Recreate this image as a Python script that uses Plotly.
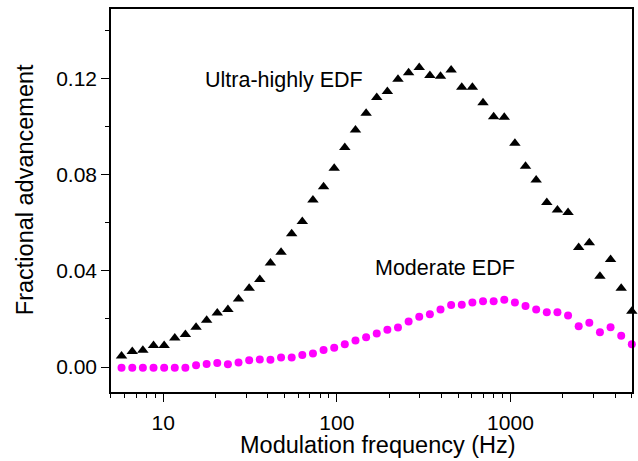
import plotly.graph_objects as go

# Modulation frequency (Hz)
freq = [5.00, 5.75, 6.63, 7.63, 8.79, 10.12, 11.65, 13.41, 15.45, 17.78,
        20.47, 23.57, 27.14, 31.25, 35.98, 41.43, 47.70, 54.92, 63.23, 72.81,
        83.83, 96.54, 111.1, 128.0, 147.4, 169.7, 195.4, 224.9, 259.0, 298.2,
        343.4, 395.3, 455.2, 524.1, 603.4, 694.8, 800.0, 921.1, 1060.5, 1221.0,
        1406.0, 1619.0, 1864.0, 2146.0, 2471.0, 2845.0, 3276.0, 3772.0, 4343.0, 5000.0]

# Ultra-highly EDF (triangles)
ultra = [0.0050, 0.0046, 0.0065, 0.0070, 0.0090, 0.0090, 0.0121, 0.0135, 0.0165, 0.0195,
         0.0225, 0.0239, 0.0283, 0.0328, 0.0364, 0.0433, 0.0478, 0.0555, 0.0606, 0.0695,
         0.0750, 0.0827, 0.0914, 0.0986, 0.1056, 0.1122, 0.1147, 0.1198, 0.1225, 0.1247,
         0.1213, 0.1210, 0.1236, 0.1164, 0.1164, 0.1100, 0.1042, 0.1039, 0.0931, 0.0836,
         0.0778, 0.0685, 0.0653, 0.0643, 0.0497, 0.0517, 0.0378, 0.0447, 0.0328, 0.0232]

# Moderate EDF (circles)
moderate = [-0.0003, -0.0003, -0.0003, -0.0003, -0.0003, -0.0003, -0.0003, -0.0003, 0.0007, 0.0013,
            0.0017, 0.0011, 0.0019, 0.0028, 0.0031, 0.0030, 0.0040, 0.0040, 0.0050, 0.0056,
            0.0071, 0.0080, 0.0095, 0.0110, 0.0124, 0.0139, 0.0155, 0.0164, 0.0189, 0.0209,
            0.0220, 0.0239, 0.0258, 0.0259, 0.0269, 0.0274, 0.0274, 0.0280, 0.0269, 0.0254,
            0.0239, 0.0228, 0.0228, 0.0214, 0.0170, 0.0184, 0.0145, 0.0165, 0.0130, 0.0095]

x_ticks = [10, 100, 1000]
x_ticktext = ["10", "100", "1000"]

FONT = "Liberation Sans, Arial, sans-serif"

fig = go.Figure()
fig.add_trace(go.Scatter(x=freq, y=ultra, mode="markers", name="Ultra-highly EDF",
                         marker=dict(symbol="triangle-up", size=10, color="black"),
                         cliponaxis=False))
fig.add_trace(go.Scatter(x=freq, y=moderate, mode="markers", name="Moderate EDF",
                         marker=dict(symbol="circle", size=8, color="#FF00FF"),
                         cliponaxis=False))

fig.add_annotation(x=1.6954, y=0.1195, xref="x", yref="y", text="Ultra-highly EDF",
                   showarrow=False, font=dict(family=FONT, size=21.5, color="black"))
fig.add_annotation(x=2.6228, y=0.0411, xref="x", yref="y", text="Moderate EDF",
                   showarrow=False, font=dict(family=FONT, size=21.5, color="black"))

# axis titles
fig.add_annotation(x=0.513, y=-0.139, xref="paper", yref="paper",
                   text="Modulation frequency (Hz)", showarrow=False,
                   xanchor="center", yanchor="middle",
                   font=dict(family=FONT, size=23.5, color="black"))
fig.add_annotation(x=-0.165, y=0.527, xref="paper", yref="paper",
                   text="Fractional advancement", showarrow=False, textangle=-90,
                   xanchor="center", yanchor="middle",
                   font=dict(family=FONT, size=23.5, color="black"))

fig.update_xaxes(type="log", range=[0.699, 3.70], automargin=False,
                 tickvals=x_ticks, ticktext=x_ticktext, ticklabelstandoff=3,
                 ticks="outside", ticklen=8, tickwidth=1.2, tickcolor="black",
                 minor=dict(ticks="outside", ticklen=4, tickwidth=1, tickcolor="black", dtick="D1"),
                 showline=True, linecolor="black", linewidth=1.5, mirror=True,
                 showgrid=False, zeroline=False,
                 tickfont=dict(family=FONT, size=21, color="black"))
fig.update_yaxes(range=[-0.0104, 0.149], tick0=0, dtick=0.04, tickformat=".2f",
                 automargin=False,
                 ticks="outside", ticklen=8, tickwidth=1.2, tickcolor="black",
                 minor=dict(ticks="outside", ticklen=4, tickwidth=1, tickcolor="black", dtick=0.02),
                 showline=True, linecolor="black", linewidth=1.5, mirror=True,
                 showgrid=False, zeroline=False,
                 tickfont=dict(family=FONT, size=21, color="black"))

fig.update_layout(width=638, height=461, showlegend=False,
                  margin=dict(l=111, r=6, t=9, b=69),
                  plot_bgcolor="white", paper_bgcolor="white")

fig.write_html("out.html", config={"displayModeBar": False},
               post_script="document.body.style.margin='0px';document.body.style.padding='0px';")
